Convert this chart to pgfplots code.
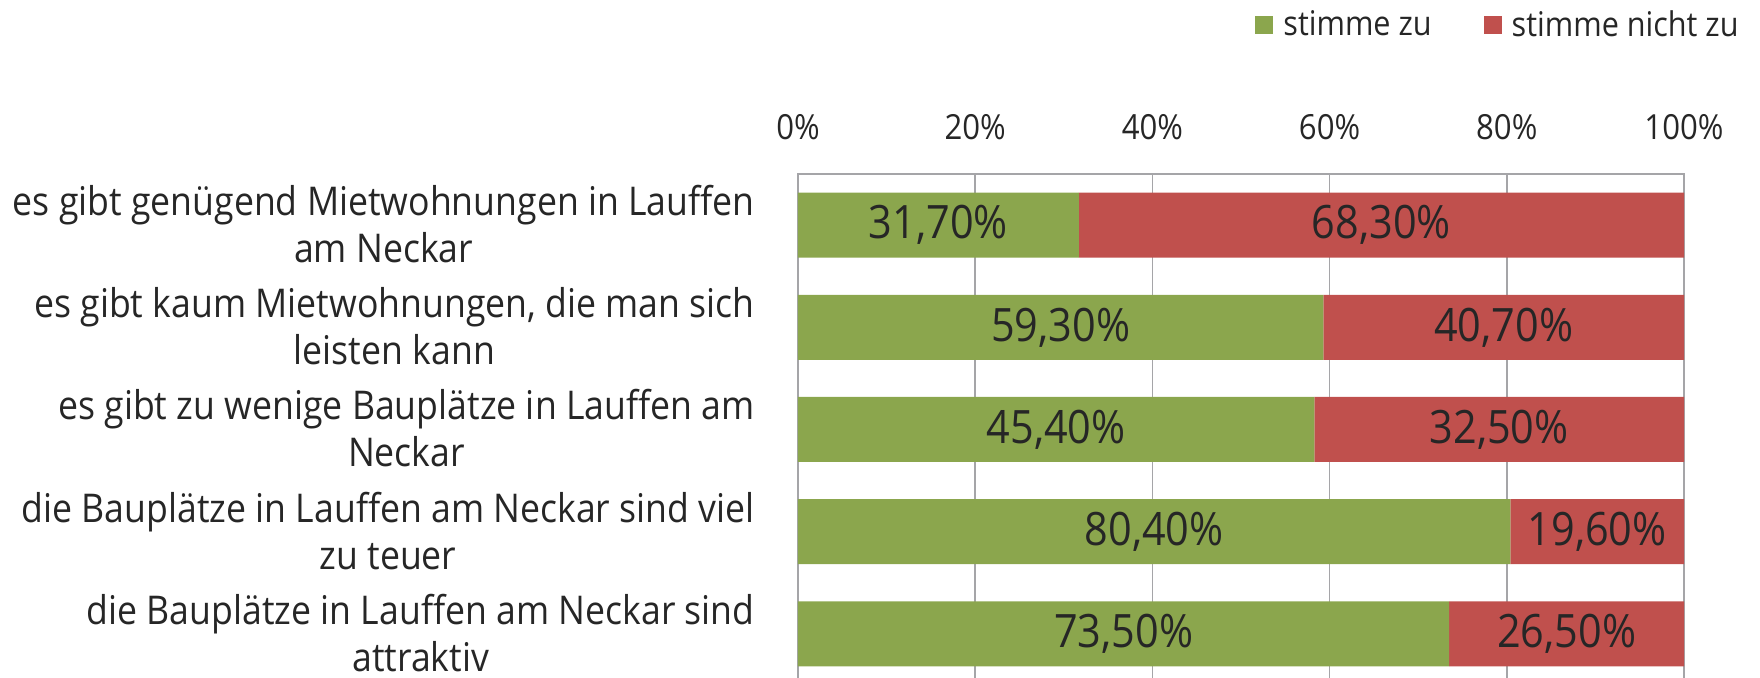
\documentclass[border=0pt]{standalone}
\usepackage{fontspec}
\setmainfont{Open Sans}[FakeStretch=0.9]
\usepackage{pgfplots}
\usepackage{pgfplotstable}
\pgfplotsset{compat=1.18}
\definecolor{cgreen}{RGB}{139,166,77}
\definecolor{cred}{RGB}{192,80,77}
\definecolor{cgrid}{RGB}{165,165,168}
\definecolor{ctext}{RGB}{38,38,38}

\pgfplotstableread{
pos g r
1 31.7 68.3
2 59.3 40.7
3 45.4 32.5
4 80.4 19.6
5 73.5 26.5
}\data

\pgfplotsset{
  base/.style={
    scale only axis, width=443pt, height=255.5pt,
    at={(0,0)}, anchor=north west,
    xmin=0, xmax=100, ymin=0.5, ymax=5.5, y dir=reverse,
    enlargelimits=false,
  }
}

\begin{document}
\begin{tikzpicture}
\begin{axis}[base,
  xbar stacked, bar width=32.5pt,
  xtick={0,20,...,100},
  xticklabel pos=top,
  xticklabel={\pgfmathprintnumber{\tick}\%},
  xticklabel style={font=\fontsize{17.3}{20}\selectfont, text=ctext, inner sep=0pt, anchor=center, yshift=23.5pt},
  /pgf/number format/assume math mode=true,
  xmajorgrids, grid style={cgrid, line width=0.8pt},
  major tick length=0pt,
  axis line style={cgrid, line width=0.8pt},
  ytick={1,2,3,4,5},
  yticklabels={{es gibt genügend Mietwohnungen in Lauffen\\am Neckar},
    {es gibt kaum Mietwohnungen, die man sich\\leisten kann},
    {es gibt zu wenige Bauplätze in Lauffen am\\Neckar},
    {die Bauplätze in Lauffen am Neckar sind viel\\zu teuer},
    {die Bauplätze in Lauffen am Neckar sind\\attraktiv}},
  yticklabel style={font=\fontsize{19.8}{23.5}\selectfont, text=ctext, align=center, anchor=east, inner sep=0pt, xshift=-21.5pt, yshift=0.5pt},
  legend columns=2,
  legend style={draw=none, fill=none, inner sep=0pt, at={(1.0666,1.2916)}, anchor=east,
    font=\fontsize{17}{20}\selectfont, text=ctext,
    /tikz/every even column/.append style={column sep=24pt}},
  legend image code/.code={\path[#1, draw=none] (0pt,-4.5pt) rectangle (9pt,4.5pt); \path (12pt,0pt);},
]
\addplot[fill=cgreen, draw=none] table[y=pos, x expr={100*\thisrow{g}/(\thisrow{g}+\thisrow{r})}] {\data};
\addlegendentry{stimme zu}
\addplot[fill=cred, draw=none] table[y=pos, x expr={100*\thisrow{r}/(\thisrow{g}+\thisrow{r})}] {\data};
\addlegendentry{stimme nicht zu}
\end{axis}
\begin{axis}[base, hide axis,
  nodes near coords={\pgfmathprintnumber{\pgfplotspointmeta}\%},
  /pgf/number format/.cd, fixed, fixed zerofill, precision=2, use comma, assume math mode=true,
  /pgfplots/.cd,
  every node near coord/.append style={anchor=center, font=\fontsize{23}{26}\selectfont, text=ctext},
]
\addplot[only marks, mark=none, point meta=explicit] table[y=pos, x expr={50*\thisrow{g}/(\thisrow{g}+\thisrow{r})}, meta=g] {\data};
\addplot[only marks, mark=none, point meta=explicit] table[y=pos, x expr={100*(\thisrow{g}+0.5*\thisrow{r})/(\thisrow{g}+\thisrow{r})}, meta=r] {\data};
\end{axis}
\pgfresetboundingbox
\useasboundingbox (-399pt,-252pt) rectangle (481pt,87pt);
\end{tikzpicture}
\end{document}
